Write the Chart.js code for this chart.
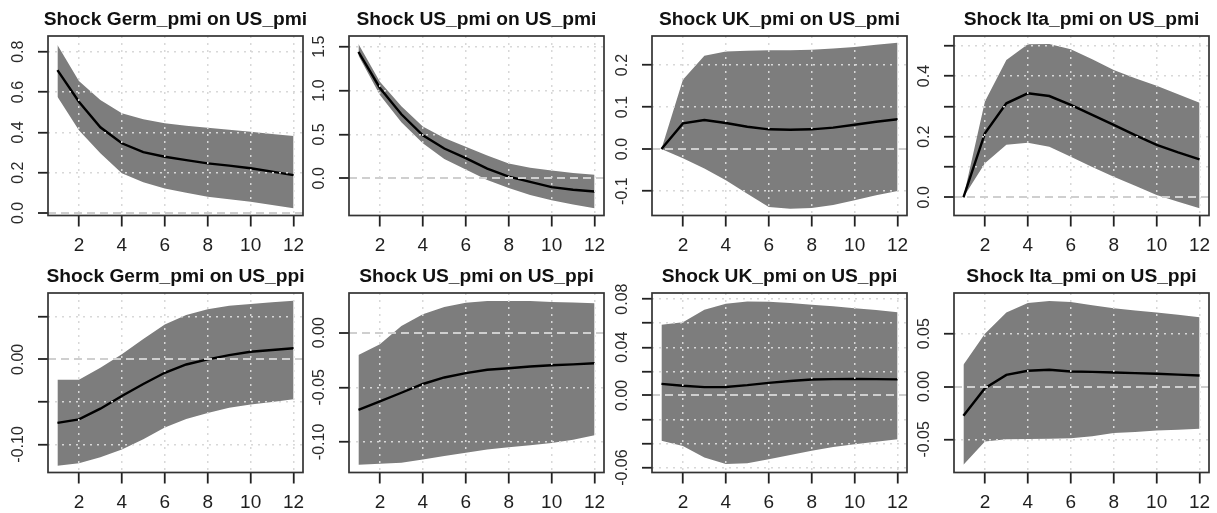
<!DOCTYPE html>
<html>
<head>
<meta charset="utf-8">
<script src="https://cdn.jsdelivr.net/npm/chart.js@4.4.1/dist/chart.umd.min.js"></script>
<style>
  html, body { margin: 0; padding: 0; background: #ffffff; }
  body { width: 1217px; height: 513px; position: relative; overflow: hidden; }
  canvas { position: absolute; }
</style>
</head>
<body>
<script>
// ---------------- DATA ----------------
const horizons = [1, 2, 3, 4, 5, 6, 7, 8, 9, 10, 11, 12];
const xTicks = [2, 4, 6, 8, 10, 12];
const xTickLabels = ['2', '4', '6', '8', '10', '12'];

const panelTitles = [
  'Shock Germ_pmi on US_pmi', 'Shock US_pmi on US_pmi', 'Shock UK_pmi on US_pmi', 'Shock Ita_pmi on US_pmi',
  'Shock Germ_pmi on US_ppi', 'Shock US_pmi on US_ppi', 'Shock UK_pmi on US_ppi', 'Shock Ita_pmi on US_ppi'
];

// Shock Germ_pmi on US_pmi
const germUsPmiIrf   = [0.709, 0.552, 0.425, 0.346, 0.302, 0.279, 0.262, 0.246, 0.235, 0.222, 0.205, 0.188];
const germUsPmiUpper = [0.833, 0.655, 0.560, 0.495, 0.465, 0.445, 0.433, 0.423, 0.413, 0.403, 0.392, 0.382];
const germUsPmiLower = [0.577, 0.410, 0.296, 0.197, 0.152, 0.122, 0.100, 0.081, 0.068, 0.056, 0.040, 0.023];

// Shock US_pmi on US_pmi
const usUsPmiIrf   = [1.44, 1.03, 0.73, 0.49, 0.34, 0.23, 0.11, 0.02, -0.04, -0.10, -0.13, -0.15];
const usUsPmiUpper = [1.53, 1.10, 0.82, 0.59, 0.46, 0.36, 0.26, 0.17, 0.12, 0.09, 0.06, 0.04];
const usUsPmiLower = [1.40, 0.95, 0.64, 0.40, 0.22, 0.10, -0.02, -0.11, -0.19, -0.25, -0.30, -0.34];

// Shock UK_pmi on US_pmi
const ukUsPmiIrf   = [0, 0.061, 0.069, 0.062, 0.053, 0.047, 0.046, 0.047, 0.051, 0.058, 0.065, 0.071];
const ukUsPmiUpper = [0, 0.165, 0.222, 0.232, 0.234, 0.235, 0.235, 0.236, 0.239, 0.243, 0.248, 0.253];
const ukUsPmiLower = [0, -0.022, -0.046, -0.074, -0.106, -0.138, -0.142, -0.140, -0.133, -0.122, -0.110, -0.100];

// Shock Ita_pmi on US_pmi
const itaUsPmiIrf   = [0, 0.211, 0.310, 0.343, 0.334, 0.305, 0.272, 0.239, 0.205, 0.173, 0.148, 0.125];
const itaUsPmiUpper = [0, 0.316, 0.453, 0.505, 0.506, 0.488, 0.455, 0.420, 0.393, 0.368, 0.340, 0.312];
const itaUsPmiLower = [0, 0.112, 0.173, 0.180, 0.167, 0.134, 0.100, 0.068, 0.038, 0.008, -0.015, -0.036];

// Shock Germ_pmi on US_ppi
const germUsPpiIrf   = [-0.0746, -0.0706, -0.058, -0.043, -0.029, -0.0158, -0.006, 0.0, 0.005, 0.009, 0.011, 0.013];
const germUsPpiUpper = [-0.024, -0.024, -0.010, 0.006, 0.024, 0.041, 0.052, 0.059, 0.063, 0.065, 0.067, 0.069];
const germUsPpiLower = [-0.125, -0.122, -0.115, -0.106, -0.094, -0.080, -0.070, -0.063, -0.057, -0.053, -0.050, -0.047];

// Shock US_pmi on US_ppi
const usUsPpiIrf   = [-0.0707, -0.063, -0.055, -0.047, -0.041, -0.037, -0.034, -0.0326, -0.031, -0.0298, -0.029, -0.028];
const usUsPpiUpper = [-0.0204, -0.0106, 0.006, 0.0168, 0.0235, 0.0274, 0.029, 0.029, 0.029, 0.028, 0.0275, 0.027];
const usUsPpiLower = [-0.121, -0.120, -0.119, -0.116, -0.113, -0.110, -0.107, -0.105, -0.103, -0.101, -0.098, -0.094];

// Shock UK_pmi on US_ppi
const ukUsPpiIrf   = [0.0096, 0.008, 0.0069, 0.007, 0.0085, 0.0104, 0.012, 0.0132, 0.0135, 0.0136, 0.0135, 0.0133];
const ukUsPpiUpper = [0.0588, 0.0607, 0.0712, 0.0762, 0.078, 0.0778, 0.0767, 0.0753, 0.074, 0.0725, 0.071, 0.069];
const ukUsPpiLower = [-0.0378, -0.042, -0.0517, -0.057, -0.0565, -0.053, -0.0495, -0.046, -0.043, -0.0406, -0.0385, -0.0364];

// Shock Ita_pmi on US_ppi
const itaUsPpiIrf   = [-0.0277, -0.0016, 0.011, 0.0149, 0.0158, 0.0142, 0.0138, 0.0133, 0.0127, 0.012, 0.0112, 0.0104];
const itaUsPpiUpper = [0.0205, 0.050, 0.070, 0.079, 0.081, 0.080, 0.077, 0.0741, 0.072, 0.070, 0.068, 0.0656];
const itaUsPpiLower = [-0.074, -0.052, -0.050, -0.0498, -0.0495, -0.049, -0.047, -0.044, -0.043, -0.0417, -0.041, -0.040];

// y-axis tick values and labels per panel
const yTicks1 = [0, 0.2, 0.4, 0.6, 0.8];           const yLabels1 = ['0.0', '0.2', '0.4', '0.6', '0.8'];
const yTicks2 = [0, 0.5, 1.0, 1.5];                const yLabels2 = ['0.0', '0.5', '1.0', '1.5'];
const yTicks3 = [-0.1, 0, 0.1, 0.2];               const yLabels3 = ['-0.1', '0.0', '0.1', '0.2'];
const yTicks4 = [0, 0.1, 0.2, 0.3, 0.4, 0.5];      const yLabels4 = ['0.0', '', '0.2', '', '0.4', ''];
const yTicks5 = [-0.10, -0.05, 0, 0.05];           const yLabels5 = ['-0.10', '', '0.00', ''];
const yTicks6 = [-0.10, -0.05, 0];                 const yLabels6 = ['-0.10', '-0.05', '0.00'];
const yTicks7 = [-0.06, -0.04, -0.02, 0, 0.02, 0.04, 0.06, 0.08];
const yLabels7 = ['-0.06', '', '', '0.00', '', '0.04', '', '0.08'];
const yTicks8 = [-0.05, 0, 0.05];                  const yLabels8 = ['-0.05', '0.00', '0.05'];

// axis ranges (R-style extended)
const yMins = [-0.0124, -0.424, -0.158, -0.060, -0.133, -0.128, -0.0641, -0.0814];
const yMaxs = [0.878, 1.622, 0.269, 0.532, 0.078, 0.0363, 0.0851, 0.0885];
const xMin = 0.56, xMax = 12.44;

const irfs   = [germUsPmiIrf, usUsPmiIrf, ukUsPmiIrf, itaUsPmiIrf, germUsPpiIrf, usUsPpiIrf, ukUsPpiIrf, itaUsPpiIrf];
const uppers = [germUsPmiUpper, usUsPmiUpper, ukUsPmiUpper, itaUsPmiUpper, germUsPpiUpper, usUsPpiUpper, ukUsPpiUpper, itaUsPpiUpper];
const lowers = [germUsPmiLower, usUsPmiLower, ukUsPmiLower, itaUsPmiLower, germUsPpiLower, usUsPpiLower, ukUsPpiLower, itaUsPpiLower];
const yTickSets  = [yTicks1, yTicks2, yTicks3, yTicks4, yTicks5, yTicks6, yTicks7, yTicks8];
const yLabelSets = [yLabels1, yLabels2, yLabels3, yLabels4, yLabels5, yLabels6, yLabels7, yLabels8];

// ---------------- LAYOUT / STYLE ----------------
const FONT = '"Liberation Sans", Arial, Helvetica, sans-serif';
const colBoxLeft = [48, 349, 652, 954];
const rowTop = [0, 257];
const Y_AXIS_W = 48, X_AXIS_H = 40.5, BOX_W = 255, CANVAS_H = 256;
const Y_TICK_LEN = 10, X_TICK_LEN = 11, Y_LABEL_DIST = 29;
const Y_FONT_SIZE = 16, X_FONT_SIZE = 19, TITLE_SIZE = 19.2;

const measureCtx = document.createElement('canvas').getContext('2d');
measureCtx.font = Y_FONT_SIZE + 'px ' + FONT;

const isZero = (ctx) => ctx.tick && Math.abs(ctx.tick.value) < 1e-9;

const boxPlugin = {
  id: 'plotBox',
  afterDraw(chart) {
    const { ctx, chartArea: a } = chart;
    ctx.save();
    ctx.strokeStyle = '#333333';
    ctx.lineWidth = 1.7;
    ctx.strokeRect(a.left, a.top, a.right - a.left, a.bottom - a.top);
    ctx.restore();
  }
};

const toXY = (vals) => horizons.map((h, i) => ({ x: h, y: vals[i] }));

for (let i = 0; i < 8; i++) {
  const col = i % 4, row = Math.floor(i / 4);
  const canvas = document.createElement('canvas');
  // symmetric canvas so the full-width title is centred over the plot box
  const cw = Y_AXIS_W + BOX_W + Y_AXIS_W;
  canvas.width = cw; canvas.height = CANVAS_H;
  canvas.style.width = cw + 'px'; canvas.style.height = CANVAS_H + 'px';
  canvas.style.left = (colBoxLeft[col] - Y_AXIS_W) + 'px';
  canvas.style.top = rowTop[row] + 'px';
  document.body.appendChild(canvas);

  const labels = yLabelSets[i];
  const ticks = yTickSets[i];
  let widest = 0;
  labels.forEach(l => { widest = Math.max(widest, measureCtx.measureText(l).width); });
  const yPad = Y_LABEL_DIST - Y_TICK_LEN - widest / 2;

  new Chart(canvas, {
    type: 'line',
    data: {
      datasets: [
        { data: toXY(irfs[i]), borderColor: '#000000', borderWidth: 2.4, pointRadius: 0, fill: false, tension: 0, order: 0 },
        { data: toXY(uppers[i]), borderColor: 'rgba(0,0,0,0)', borderWidth: 0, backgroundColor: '#7d7d7d', pointRadius: 0, fill: '+1', tension: 0, order: 1 },
        { data: toXY(lowers[i]), borderColor: 'rgba(0,0,0,0)', borderWidth: 0, pointRadius: 0, fill: false, tension: 0, order: 2 }
      ]
    },
    options: {
      responsive: false,
      animation: false,
      devicePixelRatio: 1,
      events: [],
      layout: { padding: 0 },
      plugins: {
        legend: { display: false },
        tooltip: { enabled: false },
        filler: { drawTime: 'beforeDatasetsDraw' },
        title: {
          display: true, text: panelTitles[i], fullSize: true, color: '#111111',
          font: { family: FONT, size: TITLE_SIZE, weight: 'bold', lineHeight: 1.2 },
          padding: { top: 8.4, bottom: 4.56 }
        }
      },
      scales: {
        x: {
          type: 'linear', min: xMin, max: xMax,
          afterBuildTicks: (s) => { s.ticks = xTicks.map(v => ({ value: v })); },
          afterFit: (s) => { s.height = X_AXIS_H; },
          ticks: {
            autoSkip: false, minRotation: 0, maxRotation: 0, padding: 8, color: '#1e1e1e',
            font: { family: FONT, size: X_FONT_SIZE },
            callback: (v, idx) => xTickLabels[idx]
          },
          grid: { z: 1, color: '#d8d8d8', lineWidth: 1.5, tickLength: X_TICK_LEN, tickColor: '#222222', tickWidth: 1.8, tickBorderDash: [] },
          border: { display: false, dash: [2, 5] }
        },
        y: {
          type: 'linear', position: 'left', min: yMins[i], max: yMaxs[i],
          afterBuildTicks: (s) => { s.ticks = ticks.map(v => ({ value: v })); },
          afterFit: (s) => { s.width = Y_AXIS_W; },
          ticks: {
            autoSkip: false, minRotation: 90, maxRotation: 90, crossAlign: 'center', padding: yPad, color: '#2a2a2a',
            font: { family: FONT, size: Y_FONT_SIZE },
            callback: (v, idx) => labels[idx]
          },
          grid: {
            z: 1,
            color: (ctx) => isZero(ctx) ? '#cfcfcf' : '#d8d8d8',
            lineWidth: (ctx) => isZero(ctx) ? 2 : 1.5,
            tickLength: Y_TICK_LEN, tickColor: '#222222', tickWidth: 1.8, tickBorderDash: []
          },
          border: { display: false, dash: (ctx) => isZero(ctx) ? [8, 5] : [2, 5] }
        },
        // empty spacer on the right, keeps the plot box centred in its canvas
        ySpacer: {
          type: 'linear', position: 'right', display: true,
          afterFit: (s) => { s.width = Y_AXIS_W; },
          ticks: { display: false },
          grid: { display: false, drawTicks: false },
          border: { display: false }
        }
      }
    },
    plugins: [boxPlugin]
  });
}
</script>
</body>
</html>
